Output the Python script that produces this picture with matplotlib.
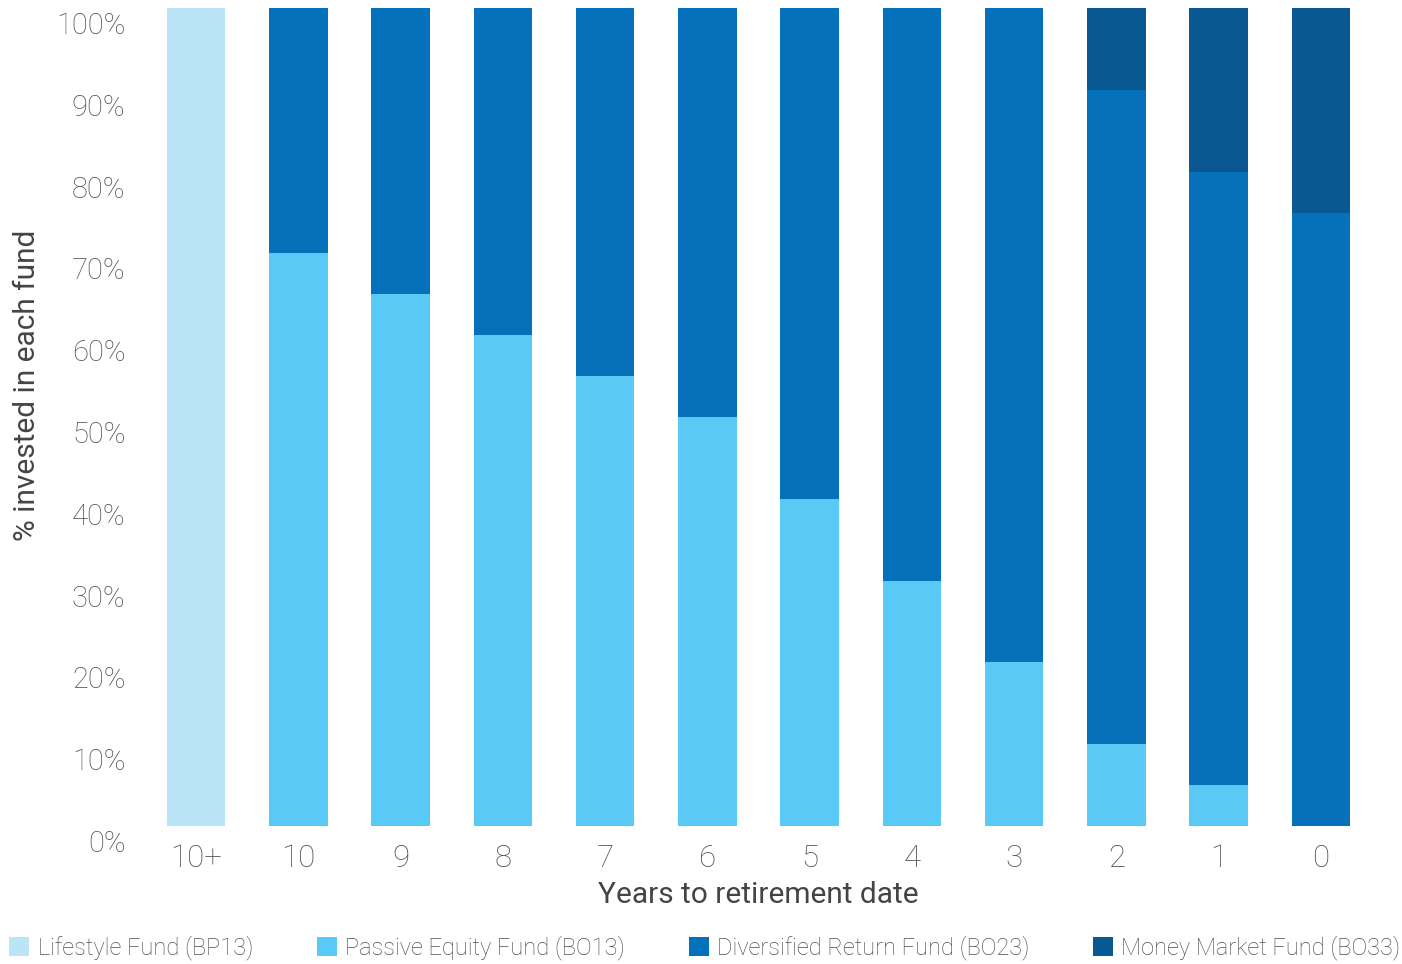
import matplotlib.pyplot as plt
import matplotlib.transforms as mtransforms
from matplotlib.patches import Patch
import numpy as np

plt.rcParams['font.family'] = ['Roboto', 'DejaVu Sans']

years = ["10+", "10", "9", "8", "7", "6", "5", "4", "3", "2", "1", "0"]
lifestyle = [100, 0, 0, 0, 0, 0, 0, 0, 0, 0, 0, 0]
passive = [0, 70, 65, 60, 55, 50, 40, 30, 20, 10, 5, 0]
diversified = [0, 30, 35, 40, 45, 50, 60, 70, 80, 80, 75, 75]
money_market = [0, 0, 0, 0, 0, 0, 0, 0, 0, 10, 20, 25]

fund_names = ["Lifestyle Fund (BP13)", "Passive Equity Fund (BO13)",
              "Diversified Return Fund (BO23)", "Money Market Fund (BO33)"]
colors = ["#bce4f7", "#59caf5", "#0571bb", "#0a5891"]
text_grey = "#505050"

W, H = 1402, 964
fig = plt.figure(figsize=(W / 100, H / 100), dpi=100)
ax = fig.add_axes([145 / W, 1 - 826 / H, (1372 - 145) / W, (826 - 8) / H])

x = np.arange(len(years))
bottom = np.zeros(len(years))
for vals, col in zip([lifestyle, passive, diversified, money_market], colors):
    ax.bar(x, vals, width=0.57, bottom=bottom, color=col, linewidth=0)
    bottom += np.array(vals)

ax.set_xlim(-0.5, len(years) - 0.5)
ax.set_ylim(0, 100)
for s in ax.spines.values():
    s.set_visible(False)

ax.set_yticks(np.arange(0, 101, 10))
ax.set_yticklabels([f"{v}%" for v in range(0, 101, 10)])
ax.tick_params(axis='y', length=0, pad=14, labelsize=21, labelcolor=text_grey)
ax.set_xticks(x)
ax.set_xticklabels(years)
ax.tick_params(axis='x', length=0, pad=13, labelsize=22.5, labelcolor=text_grey)
offset = mtransforms.ScaledTranslation(0, -15 / 100, fig.dpi_scale_trans)
for lab in ax.get_yticklabels():
    lab.set_transform(lab.get_transform() + offset)
    lab.set_fontweight('light')
for lab in ax.get_xticklabels():
    lab.set_fontweight('light')

ax.set_xlabel("Years to retirement date", fontsize=21.5, color="#444444", labelpad=6)
fig.text(27 / W, 1 - 385 / H, "% invested in each fund", rotation=90,
         fontsize=21.5, color="#444444", ha='center', va='center')

handles = [Patch(facecolor=c, edgecolor='none') for c in colors]
leg = fig.legend(handles, fund_names, loc='center', bbox_to_anchor=(705 / W, 1 - 948 / H),
                 ncol=4, frameon=False, fontsize=17, handlelength=0.85, handleheight=0.85,
                 handletextpad=0.35, columnspacing=2.7, borderaxespad=0)
for t in leg.get_texts():
    t.set_color(text_grey)
    t.set_fontweight('light')

fig.savefig("out.png", dpi=100)
